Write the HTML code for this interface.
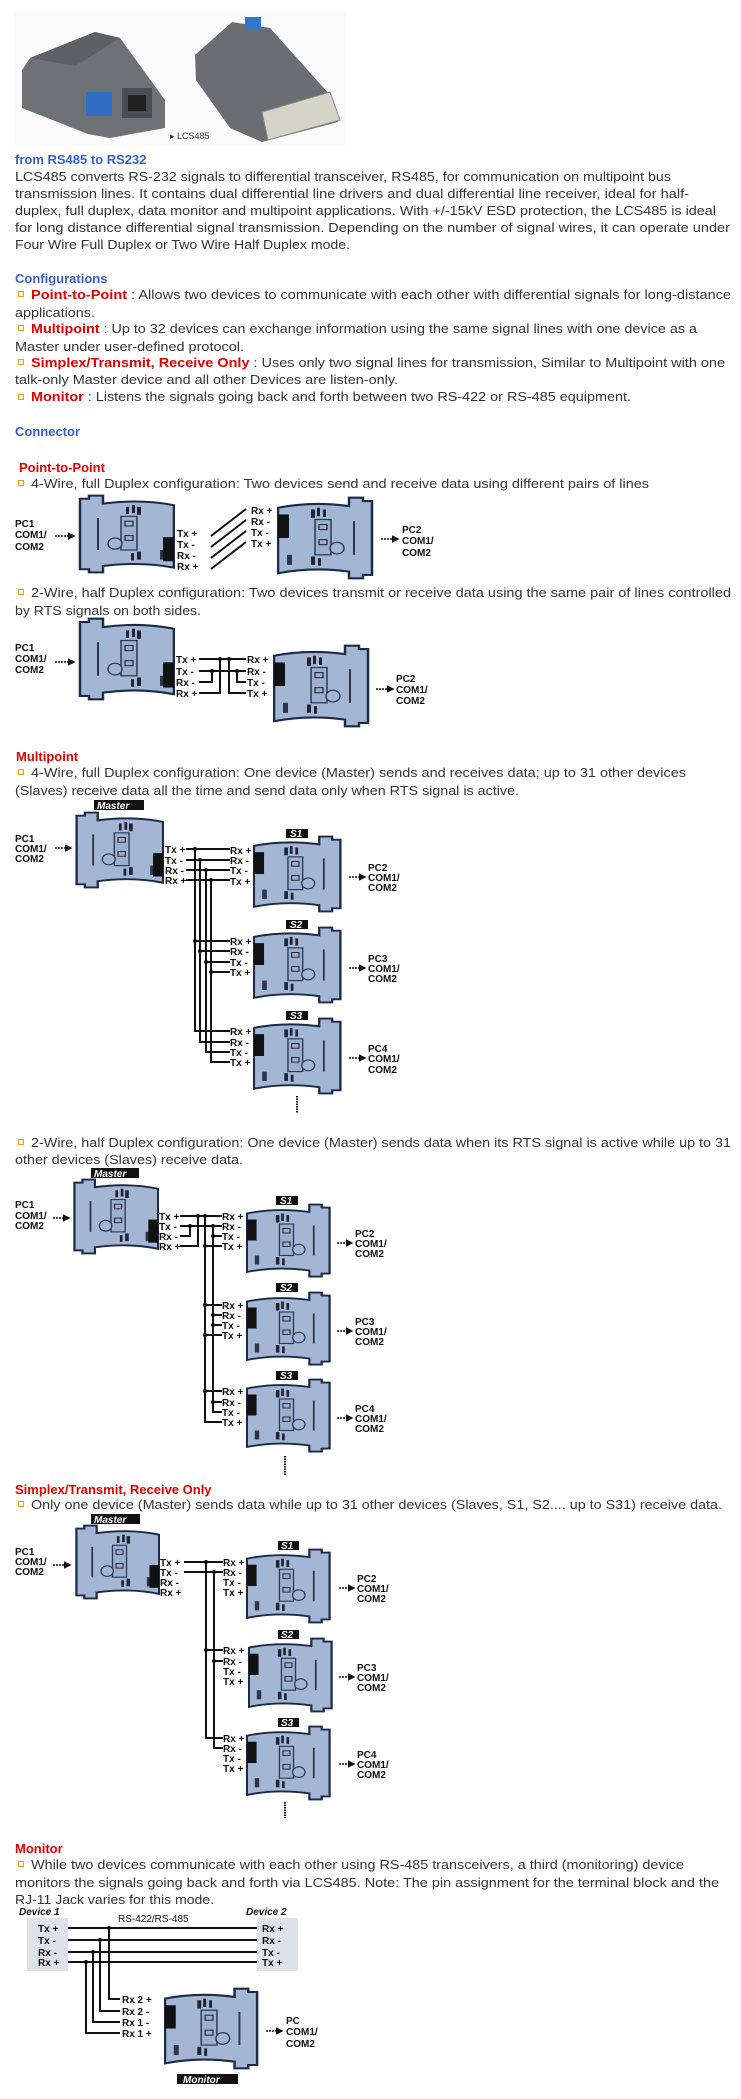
<!DOCTYPE html>
<html><head><meta charset="utf-8"><style>
html,body{margin:0;padding:0;background:#fff;width:741px;height:2099px;overflow:hidden}
svg{display:block}
.t{font-family:"Liberation Sans",sans-serif;font-size:13px;fill:#333}
.hb{font-family:"Liberation Sans",sans-serif;font-size:13px;font-weight:bold;fill:#3a5fcd}
.hr{font-family:"Liberation Sans",sans-serif;font-size:13px;font-weight:bold;fill:#e00000}
.d{font-family:"Liberation Sans",sans-serif;font-size:10px;font-weight:bold;fill:#111}
.lb{font-family:"Liberation Sans",sans-serif;font-size:10px;font-weight:bold;font-style:italic;fill:#fff}
.w{stroke:#111;stroke-width:2;fill:none}
</style></head><body>
<svg width="741" height="2099" viewBox="0 0 741 2099" xmlns="http://www.w3.org/2000/svg">
<defs>
<symbol id="body" viewBox="0 0 100 100" preserveAspectRatio="none">
 <path d="M1,14 Q35,6 72,12 V2 H86 V6 H95 V94 H86 V98 H72 V90 Q35,84 1,92 Z" fill="#a3b7d4" stroke="#1b2a48" stroke-width="2.5"/>
 <rect x="38" y="28" width="16" height="42" fill="#9bb0cf" stroke="#2a3a58" stroke-width="1.5"/>
 <circle cx="60" cy="62" r="7" fill="#a3b7d4" stroke="#2a3a58" stroke-width="1.5"/>
 <rect x="42" y="34" width="8" height="6" fill="none" stroke="#222" stroke-width="1.2"/>
 <rect x="42" y="52" width="8" height="6" fill="none" stroke="#222" stroke-width="1.2"/>
 <rect x="34" y="16" width="4" height="10" fill="#223"/><rect x="40" y="14" width="3" height="10" fill="#223"/><rect x="46" y="16" width="3" height="9" fill="#223"/>
 <rect x="34" y="72" width="4" height="10" fill="#223"/><rect x="41" y="74" width="3" height="9" fill="#223"/>
 <rect x="76" y="30" width="2" height="40" fill="#334"/>
 <rect x="10" y="70" width="5" height="12" fill="#334"/>
</symbol>
<symbol id="devL" viewBox="0 0 100 100" preserveAspectRatio="none">
 <use href="#body" x="0" y="0" width="100" height="100"/>
 <rect x="1" y="22" width="11" height="28" fill="#111"/>
</symbol>
<symbol id="devR" viewBox="0 0 100 100" preserveAspectRatio="none">
 <g transform="translate(100,0) scale(-1,1)"><use href="#body" x="0" y="0" width="100" height="100"/></g>
 <rect x="88" y="54" width="11" height="30" fill="#111"/>
</symbol>
<marker id="ar" viewBox="0 0 10 10" refX="8" refY="5" markerWidth="5" markerHeight="5" orient="auto"><path d="M0,0 L10,5 L0,10 Z" fill="#111"/></marker>
</defs>

<!-- photo -->
<rect x="14" y="10" width="332" height="136" fill="#fbfbfb"/>
<path d="M22,70 L30,58 L95,32 L120,38 L165,100 L165,128 L110,138 L88,134 L22,108 Z" fill="#6e7276"/>
<path d="M30,58 L95,32 L120,38 L75,66 Z" fill="#5d6166"/>
<rect x="86" y="92" width="26" height="24" fill="#2e6fc4"/>
<rect x="122" y="88" width="30" height="30" fill="#4a4d51"/><rect x="128" y="95" width="18" height="16" fill="#222"/>
<path d="M195,55 L232,22 L270,28 L330,95 L338,122 L262,142 L230,128 L196,80 Z" fill="#6a6e73"/>
<rect x="245" y="17" width="16" height="12" fill="#3377cc"/>
<path d="M262,112 L330,92 L340,120 L268,140 Z" fill="#d6d3c8" stroke="#888"/>
<text x="170" y="139" style="font-family:'Liberation Sans',sans-serif;font-size:9px;fill:#333">▸ LCS485</text>

<text class="hb" x="15" y="164">from RS485 to RS232</text>
<text class="t" x="15" y="181" textLength="656" lengthAdjust="spacingAndGlyphs">LCS485 converts RS-232 signals to differential transceiver, RS485, for communication on multipoint bus</text>
<text class="t" x="15" y="198" textLength="674" lengthAdjust="spacingAndGlyphs">transmission lines. It contains dual differential line drivers and dual differential line receiver, ideal for half-</text>
<text class="t" x="15" y="215" textLength="701" lengthAdjust="spacingAndGlyphs">duplex, full duplex, data monitor and multipoint applications. With +/-15kV ESD protection, the LCS485 is ideal</text>
<text class="t" x="15" y="232" textLength="715" lengthAdjust="spacingAndGlyphs">for long distance differential signal transmission. Depending on the number of signal wires, it can operate under</text>
<text class="t" x="15" y="249" textLength="335" lengthAdjust="spacingAndGlyphs">Four Wire Full Duplex or Two Wire Half Duplex mode.</text>

<text class="hb" x="15" y="283">Configurations</text>
<g fill="none" stroke="#e8a000" stroke-width="1"><rect x="18.5" y="291.5" width="5" height="5"/><rect x="18.5" y="325.5" width="5" height="5"/><rect x="18.5" y="359.5" width="5" height="5"/><rect x="18.5" y="394.5" width="5" height="5"/>
<rect x="18.5" y="480.5" width="5" height="5"/><rect x="18.5" y="589.5" width="5" height="5"/><rect x="18.5" y="769.5" width="5" height="5"/><rect x="18.5" y="1139.5" width="5" height="5"/><rect x="18.5" y="1501.5" width="5" height="5"/><rect x="18.5" y="1861.5" width="5" height="5"/></g>
<text x="31" y="299" textLength="700" lengthAdjust="spacingAndGlyphs" class="t"><tspan class="hr">Point-to-Point</tspan> : Allows two devices to communicate with each other with differential signals for long-distance</text>
<text class="t" x="15" y="317" textLength="80" lengthAdjust="spacingAndGlyphs">applications.</text>
<text x="31" y="333" textLength="666" lengthAdjust="spacingAndGlyphs" class="t"><tspan class="hr">Multipoint</tspan> : Up to 32 devices can exchange information using the same signal lines with one device as a</text>
<text class="t" x="15" y="351" textLength="229" lengthAdjust="spacingAndGlyphs">Master under user-defined protocol.</text>
<text x="31" y="367" textLength="694" lengthAdjust="spacingAndGlyphs" class="t"><tspan class="hr">Simplex/Transmit, Receive Only</tspan> : Uses only two signal lines for transmission, Similar to Multipoint with one</text>
<text class="t" x="15" y="384" textLength="383" lengthAdjust="spacingAndGlyphs">talk-only Master device and all other Devices are listen-only.</text>
<text x="31" y="401" textLength="600" lengthAdjust="spacingAndGlyphs" class="t"><tspan class="hr">Monitor</tspan> : Listens the signals going back and forth between two RS-422 or RS-485 equipment.</text>
<text class="hb" x="15" y="436">Connector</text>

<!-- Point to point -->
<text class="hr" x="19" y="472">Point-to-Point</text>
<text class="t" x="31" y="488" textLength="618" lengthAdjust="spacingAndGlyphs">4-Wire, full Duplex configuration: Two devices send and receive data using different pairs of lines</text>
<use href="#devR" x="75" y="494" width="100" height="80"/>
<g class="d"><text x="15" y="527">PC1</text><text x="15" y="538">COM1/</text><text x="15" y="550">COM2</text>
<text x="177" y="537">Tx +</text><text x="177" y="548">Tx -</text><text x="177" y="559">Rx -</text><text x="177" y="570">Rx +</text>
<text x="251" y="514">Rx +</text><text x="251" y="525">Rx -</text><text x="251" y="536">Tx -</text><text x="251" y="547">Tx +</text>
<text x="402" y="533">PC2</text><text x="402" y="544">COM1/</text><text x="402" y="556">COM2</text></g>
<g class="w"><line x1="211" y1="536" x2="246" y2="509"/><line x1="211" y1="547" x2="246" y2="520"/><line x1="211" y1="558" x2="246" y2="531"/><line x1="211" y1="569" x2="246" y2="542"/></g>
<use href="#devL" x="277" y="496" width="100" height="84"/>
<g stroke="#111" stroke-width="1.5" stroke-dasharray="2,1" marker-end="url(#ar)"><line x1="55" y1="536" x2="74" y2="536"/><line x1="381" y1="539" x2="398" y2="539"/></g>

<text class="t" x="31" y="597" textLength="700" lengthAdjust="spacingAndGlyphs">2-Wire, half Duplex configuration: Two devices transmit or receive data using the same pair of lines controlled</text>
<text class="t" x="15" y="615" textLength="186" lengthAdjust="spacingAndGlyphs">by RTS signals on both sides.</text>
<use href="#devR" x="75" y="617" width="100" height="84"/>
<g class="d"><text x="15" y="651">PC1</text><text x="15" y="662">COM1/</text><text x="15" y="673">COM2</text>
<text x="176" y="663">Tx +</text><text x="176" y="675">Tx -</text><text x="176" y="686">Rx -</text><text x="176" y="697">Rx +</text>
<text x="247" y="663">Rx +</text><text x="247" y="675">Rx -</text><text x="247" y="686">Tx -</text><text x="247" y="697">Tx +</text>
<text x="396" y="682">PC2</text><text x="396" y="693">COM1/</text><text x="396" y="704">COM2</text></g>
<g class="w"><path d="M199,659 H246 M199,671 H246 M199,682 H212 V671 M199,693 H220 V659 M246,682 H237 V671 M246,693 H229 V659"/></g>
<g fill="#111"><circle cx="220" cy="659" r="2"/><circle cx="229" cy="659" r="2"/><circle cx="212" cy="671" r="2"/><circle cx="237" cy="671" r="2"/></g>
<use href="#devL" x="273" y="644" width="100" height="84"/>
<g stroke="#111" stroke-width="1.5" stroke-dasharray="2,1" marker-end="url(#ar)"><line x1="55" y1="662" x2="74" y2="662"/><line x1="376" y1="689" x2="393" y2="689"/></g>

<!-- Multipoint 4 wire -->
<text class="hr" x="16" y="761">Multipoint</text>
<text class="t" x="31" y="777" textLength="655" lengthAdjust="spacingAndGlyphs">4-Wire, full Duplex configuration: One device (Master) sends and receives data; up to 31 other devices</text>
<text class="t" x="15" y="795" textLength="504" lengthAdjust="spacingAndGlyphs">(Slaves) receive data all the time and send data only when RTS signal is active.</text>
<rect x="94" y="800" width="50" height="10" fill="#111"/><text class="lb" x="97" y="809">Master</text>
<use href="#devR" x="72" y="811" width="92" height="78"/>
<g class="d"><text x="15" y="842">PC1</text><text x="15" y="852">COM1/</text><text x="15" y="862">COM2</text>
<text x="165" y="853">Tx +</text><text x="165" y="864">Tx -</text><text x="165" y="874">Rx -</text><text x="165" y="884">Rx +</text></g>
<g stroke="#111" stroke-width="1.5" stroke-dasharray="2,1" marker-end="url(#ar)"><line x1="55" y1="848" x2="71" y2="848"/></g>
<g class="w"><path d="M186,849 H230 M186,860 H230 M186,870 H230 M186,880 H230 M195,849 V1031 H230 M200,860 V1042 H230 M206,870 V1052 H230 M211,880 V1062 H230 M195,941 H230 M200,951 H230 M206,962 H230 M211,972 H230"/></g>
<g fill="#111"><circle cx="195" cy="849" r="2"/><circle cx="200" cy="860" r="2"/><circle cx="206" cy="870" r="2"/><circle cx="211" cy="880" r="2"/><circle cx="195" cy="941" r="2"/><circle cx="200" cy="951" r="2"/><circle cx="206" cy="962" r="2"/><circle cx="211" cy="972" r="2"/></g>
<g id="mp1">
<rect x="286" y="829" width="22" height="9" fill="#111"/><text class="lb" x="290" y="837">S1</text>
<use href="#devL" x="253" y="835" width="92" height="78"/>
<rect x="286" y="920" width="22" height="9" fill="#111"/><text class="lb" x="290" y="928">S2</text>
<use href="#devL" x="253" y="926" width="92" height="78"/>
<rect x="286" y="1011" width="22" height="9" fill="#111"/><text class="lb" x="290" y="1019">S3</text>
<use href="#devL" x="253" y="1017" width="92" height="78"/>
</g>
<g class="d"><text x="230" y="854">Rx +</text><text x="230" y="864">Rx -</text><text x="230" y="874">Tx -</text><text x="230" y="885">Tx +</text>
<text x="230" y="945">Rx +</text><text x="230" y="955">Rx -</text><text x="230" y="966">Tx -</text><text x="230" y="976">Tx +</text>
<text x="230" y="1035">Rx +</text><text x="230" y="1046">Rx -</text><text x="230" y="1056">Tx -</text><text x="230" y="1066">Tx +</text>
<text x="368" y="871">PC2</text><text x="368" y="881">COM1/</text><text x="368" y="891">COM2</text>
<text x="368" y="962">PC3</text><text x="368" y="972">COM1/</text><text x="368" y="982">COM2</text>
<text x="368" y="1052">PC4</text><text x="368" y="1062">COM1/</text><text x="368" y="1073">COM2</text></g>
<g stroke="#111" stroke-width="1.5" stroke-dasharray="2,1" marker-end="url(#ar)"><line x1="349" y1="877" x2="365" y2="877"/><line x1="349" y1="968" x2="365" y2="968"/><line x1="349" y1="1058" x2="365" y2="1058"/></g>
<line x1="297" y1="1096" x2="297" y2="1113" stroke="#111" stroke-width="2" stroke-dasharray="1.5,1"/>

<!-- Multipoint 2 wire -->
<text class="t" x="31" y="1147" textLength="700" lengthAdjust="spacingAndGlyphs">2-Wire, half Duplex configuration: One device (Master) sends data when its RTS signal is active while up to 31</text>
<text class="t" x="15" y="1164" textLength="228" lengthAdjust="spacingAndGlyphs">other devices (Slaves) receive data.</text>
<rect x="91" y="1168" width="48" height="10" fill="#111"/><text class="lb" x="94" y="1177">Master</text>
<use href="#devR" x="70" y="1178" width="89" height="77"/>
<g class="d"><text x="15" y="1208">PC1</text><text x="15" y="1219">COM1/</text><text x="15" y="1229">COM2</text>
<text x="159" y="1220">Tx +</text><text x="159" y="1230">Tx -</text><text x="159" y="1240">Rx -</text><text x="159" y="1250">Rx +</text>
<text x="222" y="1220">Rx +</text><text x="222" y="1230">Rx -</text><text x="222" y="1240">Tx -</text><text x="222" y="1250">Tx +</text>
<text x="222" y="1309">Rx +</text><text x="222" y="1319">Rx -</text><text x="222" y="1329">Tx -</text><text x="222" y="1339">Tx +</text>
<text x="222" y="1395">Rx +</text><text x="222" y="1406">Rx -</text><text x="222" y="1416">Tx -</text><text x="222" y="1426">Tx +</text>
<text x="355" y="1237">PC2</text><text x="355" y="1247">COM1/</text><text x="355" y="1257">COM2</text>
<text x="355" y="1325">PC3</text><text x="355" y="1335">COM1/</text><text x="355" y="1345">COM2</text>
<text x="355" y="1412">PC4</text><text x="355" y="1422">COM1/</text><text x="355" y="1432">COM2</text></g>
<g stroke="#111" stroke-width="1.5" stroke-dasharray="2,1" marker-end="url(#ar)"><line x1="53" y1="1218" x2="69" y2="1218"/><line x1="337" y1="1243" x2="352" y2="1243"/><line x1="337" y1="1331" x2="352" y2="1331"/><line x1="337" y1="1418" x2="352" y2="1418"/></g>
<g class="w"><path d="M180,1216 H222 M180,1226 H222 M180,1236 H190 V1226 M180,1246 H198 V1216 M205,1216 V1422 H222 M213,1226 V1412 H222 M205,1246 H222 M213,1236 H222 M205,1305 H222 M213,1315 H222 M213,1325 H222 M205,1335 H222 M205,1391 H222 M213,1402 H222"/></g>
<g fill="#111"><circle cx="205" cy="1216" r="2"/><circle cx="213" cy="1226" r="2"/><circle cx="205" cy="1246" r="2"/><circle cx="213" cy="1236" r="2"/><circle cx="205" cy="1305" r="2"/><circle cx="213" cy="1315" r="2"/><circle cx="213" cy="1325" r="2"/><circle cx="205" cy="1335" r="2"/><circle cx="205" cy="1391" r="2"/><circle cx="213" cy="1402" r="2"/><circle cx="198" cy="1216" r="2"/><circle cx="190" cy="1226" r="2"/></g>
<rect x="276" y="1196" width="22" height="9" fill="#111"/><text class="lb" x="280" y="1204">S1</text>
<use href="#devL" x="246" y="1203" width="88" height="75"/>
<rect x="276" y="1283" width="22" height="9" fill="#111"/><text class="lb" x="280" y="1291">S2</text>
<use href="#devL" x="246" y="1291" width="88" height="75"/>
<rect x="276" y="1371" width="22" height="9" fill="#111"/><text class="lb" x="280" y="1379">S3</text>
<use href="#devL" x="246" y="1378" width="88" height="75"/>
<line x1="285" y1="1456" x2="285" y2="1475" stroke="#111" stroke-width="2" stroke-dasharray="1.5,1"/>

<!-- Simplex -->
<text class="hr" x="15" y="1494">Simplex/Transmit, Receive Only</text>
<text class="t" x="31" y="1509" textLength="691" lengthAdjust="spacingAndGlyphs">Only one device (Master) sends data while up to 31 other devices (Slaves, S1, S2.... up to S31) receive data.</text>
<rect x="91" y="1514" width="49" height="10" fill="#111"/><text class="lb" x="94" y="1523">Master</text>
<use href="#devR" x="72" y="1524" width="88" height="76"/>
<g class="d"><text x="15" y="1555">PC1</text><text x="15" y="1565">COM1/</text><text x="15" y="1575">COM2</text>
<text x="160" y="1566">Tx +</text><text x="160" y="1576">Tx -</text><text x="160" y="1586">Rx -</text><text x="160" y="1596">Rx +</text>
<text x="223" y="1566">Rx +</text><text x="223" y="1576">Rx -</text><text x="223" y="1586">Tx -</text><text x="223" y="1596">Tx +</text>
<text x="223" y="1654">Rx +</text><text x="223" y="1665">Rx -</text><text x="223" y="1675">Tx -</text><text x="223" y="1685">Tx +</text>
<text x="223" y="1742">Rx +</text><text x="223" y="1752">Rx -</text><text x="223" y="1762">Tx -</text><text x="223" y="1772">Tx +</text>
<text x="357" y="1582">PC2</text><text x="357" y="1592">COM1/</text><text x="357" y="1602">COM2</text>
<text x="357" y="1671">PC3</text><text x="357" y="1681">COM1/</text><text x="357" y="1691">COM2</text>
<text x="357" y="1758">PC4</text><text x="357" y="1768">COM1/</text><text x="357" y="1778">COM2</text></g>
<g stroke="#111" stroke-width="1.5" stroke-dasharray="2,1" marker-end="url(#ar)"><line x1="53" y1="1565" x2="70" y2="1565"/><line x1="339" y1="1588" x2="354" y2="1588"/><line x1="339" y1="1677" x2="354" y2="1677"/><line x1="339" y1="1764" x2="354" y2="1764"/></g>
<g class="w"><path d="M184,1562 H223 M184,1572 H223 M206,1562 V1738 H223 M214,1572 V1748 H223 M206,1650 H223 M214,1661 H223"/></g>
<g fill="#111"><circle cx="206" cy="1562" r="2"/><circle cx="214" cy="1572" r="2"/><circle cx="206" cy="1650" r="2"/><circle cx="214" cy="1661" r="2"/></g>
<rect x="278" y="1541" width="21" height="9" fill="#111"/><text class="lb" x="281" y="1549">S1</text>
<use href="#devL" x="246" y="1548" width="88" height="76"/>
<rect x="278" y="1630" width="21" height="9" fill="#111"/><text class="lb" x="281" y="1638">S2</text>
<use href="#devL" x="248" y="1637" width="88" height="76"/>
<rect x="278" y="1718" width="21" height="9" fill="#111"/><text class="lb" x="281" y="1726">S3</text>
<use href="#devL" x="246" y="1725" width="88" height="76"/>
<line x1="285" y1="1802" x2="285" y2="1818" stroke="#111" stroke-width="2" stroke-dasharray="1.5,1"/>

<!-- Monitor -->
<text class="hr" x="15" y="1853">Monitor</text>
<text class="t" x="31" y="1869" textLength="653" lengthAdjust="spacingAndGlyphs">While two devices communicate with each other using RS-485 transceivers, a third (monitoring) device</text>
<text class="t" x="15" y="1887" textLength="704" lengthAdjust="spacingAndGlyphs">monitors the signals going back and forth via LCS485. Note: The pin assignment for the terminal block and the</text>
<text class="t" x="15" y="1904" textLength="199" lengthAdjust="spacingAndGlyphs">RJ-11 Jack varies for this mode.</text>
<text x="19" y="1915" style="font-family:'Liberation Sans',sans-serif;font-size:10px;font-weight:bold;font-style:italic;fill:#111">Device 1</text>
<text x="246" y="1915" style="font-family:'Liberation Sans',sans-serif;font-size:10px;font-weight:bold;font-style:italic;fill:#111">Device 2</text>
<text x="118" y="1922" style="font-family:'Liberation Sans',sans-serif;font-size:10px;fill:#111">RS-422/RS-485</text>
<rect x="27" y="1918" width="41" height="53" fill="#dde3ea"/>
<rect x="257" y="1918" width="41" height="53" fill="#dde3ea"/>
<g class="d"><text x="38" y="1932">Tx +</text><text x="38" y="1944">Tx -</text><text x="38" y="1956">Rx -</text><text x="38" y="1966">Rx +</text>
<text x="262" y="1932">Rx +</text><text x="262" y="1944">Rx -</text><text x="262" y="1956">Tx -</text><text x="262" y="1966">Tx +</text>
<text x="122" y="2003">Rx 2 +</text><text x="122" y="2015">Rx 2 -</text><text x="122" y="2026">Rx 1 -</text><text x="122" y="2037">Rx 1 +</text>
<text x="286" y="2024">PC</text><text x="286" y="2035">COM1/</text><text x="286" y="2047">COM2</text></g>
<g class="w"><path d="M68,1928 H257 M68,1940 H257 M68,1952 H257 M68,1962 H257 M109,1928 V1999 H120 M100,1940 V2011 H120 M93,1952 V2022 H120 M86,1962 V2033 H120"/></g>
<g fill="#111"><circle cx="109" cy="1928" r="2"/><circle cx="100" cy="1940" r="2"/><circle cx="93" cy="1952" r="2"/><circle cx="86" cy="1962" r="2"/></g>
<use href="#devL" x="164" y="1987" width="98" height="83"/>
<g stroke="#111" stroke-width="1.5" stroke-dasharray="2,1" marker-end="url(#ar)"><line x1="266" y1="2031" x2="282" y2="2031"/></g>
<rect x="177" y="2074" width="61" height="10" fill="#111"/><text class="lb" x="183" y="2083">Monitor</text>
</svg>
</body></html>
